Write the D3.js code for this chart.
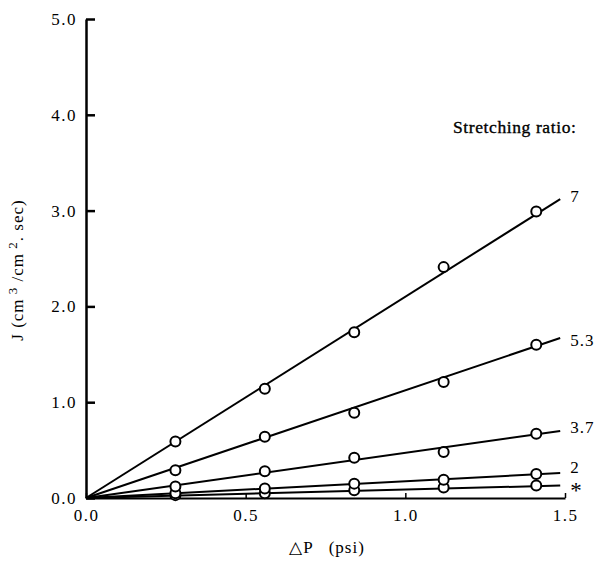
<!DOCTYPE html>
<html><head><meta charset="utf-8">
<script src="https://cdn.jsdelivr.net/npm/d3@7/dist/d3.min.js"></script>
<style>
body{margin:0;background:#fff;}
svg text{font-family:'Liberation Serif', serif !important;}
</style></head>
<body><svg id="c" width="596" height="561"></svg>
<script>
const pressures = [0.28, 0.56, 0.84, 1.12, 1.41];
const seriesNames = ["7", "5.3", "3.7", "2", "*"];
const ratio7   = [0.59, 1.14, 1.73, 2.41, 2.99];
const ratio5_3 = [0.29, 0.64, 0.89, 1.21, 1.60];
const ratio3_7 = [0.12, 0.28, 0.42, 0.48, 0.67];
const ratio2   = [0.05, 0.10, 0.15, 0.19, 0.25];
const ratioStar= [0.03, 0.05, 0.08, 0.11, 0.13];
const lineEnd  = [3.12, 1.67, 0.70, 0.26, 0.13];
const xTicks = [0, 0.5, 1.0, 1.5];
const yTicks = [0, 1, 2, 3, 4, 5];
const allSeries = [ratio7, ratio5_3, ratio3_7, ratio2, ratioStar];
const lineEndX = 1.485;
const FONT = "'Liberation Serif', serif";

const svg = d3.select("#c");
const x = d3.scaleLinear().domain([0, 1.5]).range([86, 565]);
const y = d3.scaleLinear().domain([0, 5]).range([498, 19]);

// axes
const yAxis = d3.axisLeft(y).tickValues(yTicks).tickFormat(d3.format(".1f")).tickSizeInner(-9).tickSizeOuter(0).tickPadding(9);
const gy = svg.append("g").attr("transform", `translate(${x(0)},0)`).call(yAxis).attr("font-family", FONT);
gy.select(".domain").attr("stroke", "#000").attr("stroke-width", 2.5);
gy.selectAll(".tick line").attr("stroke", "#000").attr("stroke-width", 2.5);
gy.selectAll(".tick text").attr("font-size", 17).attr("letter-spacing", 1.5).attr("fill", "#000").style("font-family", FONT);

const xAxis = d3.axisBottom(x).tickValues(xTicks).tickFormat(d3.format(".1f")).tickSizeInner(-5).tickSizeOuter(0).tickPadding(11);
const gx = svg.append("g").attr("transform", `translate(0,${y(0)})`).call(xAxis).attr("font-family", FONT);
gx.select(".domain").attr("stroke", "#000").attr("stroke-width", 2);
gx.selectAll(".tick line").attr("stroke", "#000").attr("stroke-width", 1.5);
gx.selectAll(".tick text").attr("font-size", 17).attr("letter-spacing", 1.5).attr("fill", "#000").style("font-family", FONT);

// lines from origin
allSeries.forEach((s, i) => {
  svg.append("line")
    .attr("x1", x(0)).attr("y1", y(0))
    .attr("x2", x(lineEndX)).attr("y2", y(lineEnd[i]))
    .attr("stroke", "#000").attr("stroke-width", 2);
});

// points (draw lower series first)
allSeries.slice().reverse().forEach(s => {
  svg.append("g").selectAll("circle").data(s).join("circle")
    .attr("cx", (d, j) => x(pressures[j]))
    .attr("cy", d => y(d))
    .attr("r", 5)
    .attr("fill", "#fff").attr("stroke", "#000").attr("stroke-width", 2);
});

// labels
const labelDy = [-3, 2, -4, -6, 0];
seriesNames.forEach((n, i) => {
  const t = svg.append("text")
    .style("font-family", FONT)
    .attr("x", x(lineEndX) + 10)
    .attr("font-size", n === "*" ? 23 : 17)
    .attr("letter-spacing", 1)
    .text(n);
  if (n === "*") t.attr("y", y(lineEnd[i]) + 12);
  else t.attr("y", y(lineEnd[i]) + labelDy[i]).attr("dy", "0.35em");
});

svg.append("text").style("font-family", FONT).attr("x", 453).attr("y", 133).attr("font-size", 17.5)
  .attr("letter-spacing", 0.6)
  .attr("stroke", "#000").attr("stroke-width", 0.35).text("Stretching ratio:");

// axis titles
const yl = svg.append("text").style("font-family", FONT).attr("transform", "translate(23,270) rotate(-90)")
  .attr("text-anchor", "middle").attr("font-size", 17).attr("letter-spacing", 1).attr("xml:space", "preserve");
yl.append("tspan").text("J (cm");
yl.append("tspan").attr("dy", -6).attr("font-size", 13).text(" 3");
yl.append("tspan").attr("dy", 6).text(" /cm");
yl.append("tspan").attr("dy", -6).attr("font-size", 13).text(" 2");
yl.append("tspan").attr("dy", 6).text(". sec)");

svg.append("text").style("font-family", FONT).attr("x", 327).attr("y", 553).attr("text-anchor", "middle")
  .attr("font-size", 17).attr("letter-spacing", 1).attr("xml:space", "preserve").text("△P   (psi)");
</script></body></html>
